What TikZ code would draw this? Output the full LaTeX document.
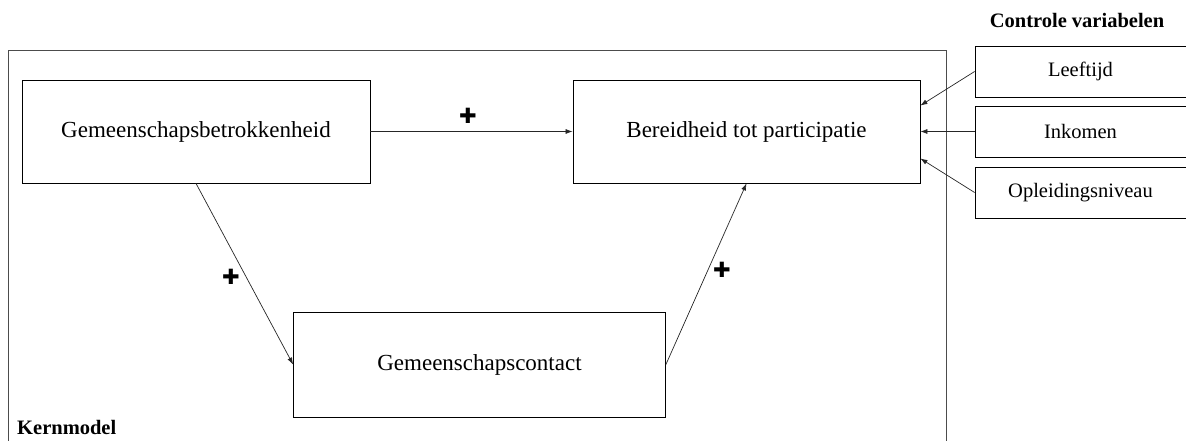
\documentclass[tikz,border=0pt]{standalone}
\usepackage{fontspec}
\setmainfont{Liberation Serif}
\newfontfamily\symf{DejaVu Sans}
\usetikzlibrary{arrows.meta,calc}
\begin{document}
\begin{tikzpicture}[x=1pt,y=-1pt,
  box/.style={draw=black, line width=0.8pt, inner sep=0pt, font=\fontsize{23}{27}\selectfont},
  cbox/.style={draw=black, line width=0.8pt, inner sep=0pt, minimum width=211pt, minimum height=51pt, font=\fontsize{20.5}{24}\selectfont},
  arr/.style={draw=black!85, line width=0.7pt, -{Latex[length=7pt,width=5pt]}},
  plus/.style={font=\symf\bfseries\fontsize{21}{21}\selectfont, inner sep=0pt},
  lbl/.style={font=\bfseries\fontsize{20.5}{24}\selectfont, inner sep=0pt}]
\useasboundingbox (0,0) rectangle (1186,441);
% Kernmodel frame
\draw[draw=black!70, line width=0.9pt] (8,441) -- (8,50) -- (946,50) -- (946,441);
\node[lbl, anchor=west] (kern) at (17,427) {Kernmodel};
\node[lbl] (ctrl) at (1077,20) {Controle variabelen};
% main boxes
\node[box, minimum width=348pt, minimum height=103pt] (b1) at (196,131.5) {Gemeenschapsbetrokkenheid};
\node[box, minimum width=347pt, minimum height=103pt] (b2) at (746.5,131.5) {Bereidheid tot participatie};
\node[box, minimum width=372pt, minimum height=105pt] (b3) at (479.5,364.5) {Gemeenschapscontact};
% control boxes
\node[cbox] (c1) at (1080.5,71.5) {Leeftijd};
\node[cbox] (c2) at (1080.5,131.5) {Inkomen};
\node[cbox] (c3) at (1080.5,192.5) {Opleidingsniveau};
% connector targets on b2 east side
\coordinate (t1) at ($(b2.north east)!0.25!(b2.south east)$);
\coordinate (t3) at ($(b2.north east)!0.76!(b2.south east)$);
% arrows
\draw[arr] (b1.east) -- (b2.west);
\draw[arr] (b1.south) -- (b3.west);
\draw[arr] (b3.east) -- (b2.south);
\draw[arr] (c1.west) -- (t1);
\draw[arr] (c2.west) -- (b2.east);
\draw[arr] (c3.west) -- (t3);
% plus signs
\node[plus] (p1) at (468,116) {✚};
\node[plus] (p2) at (231,277) {✚};
\node[plus] (p3) at (722,270) {✚};
\end{tikzpicture}
\end{document}
